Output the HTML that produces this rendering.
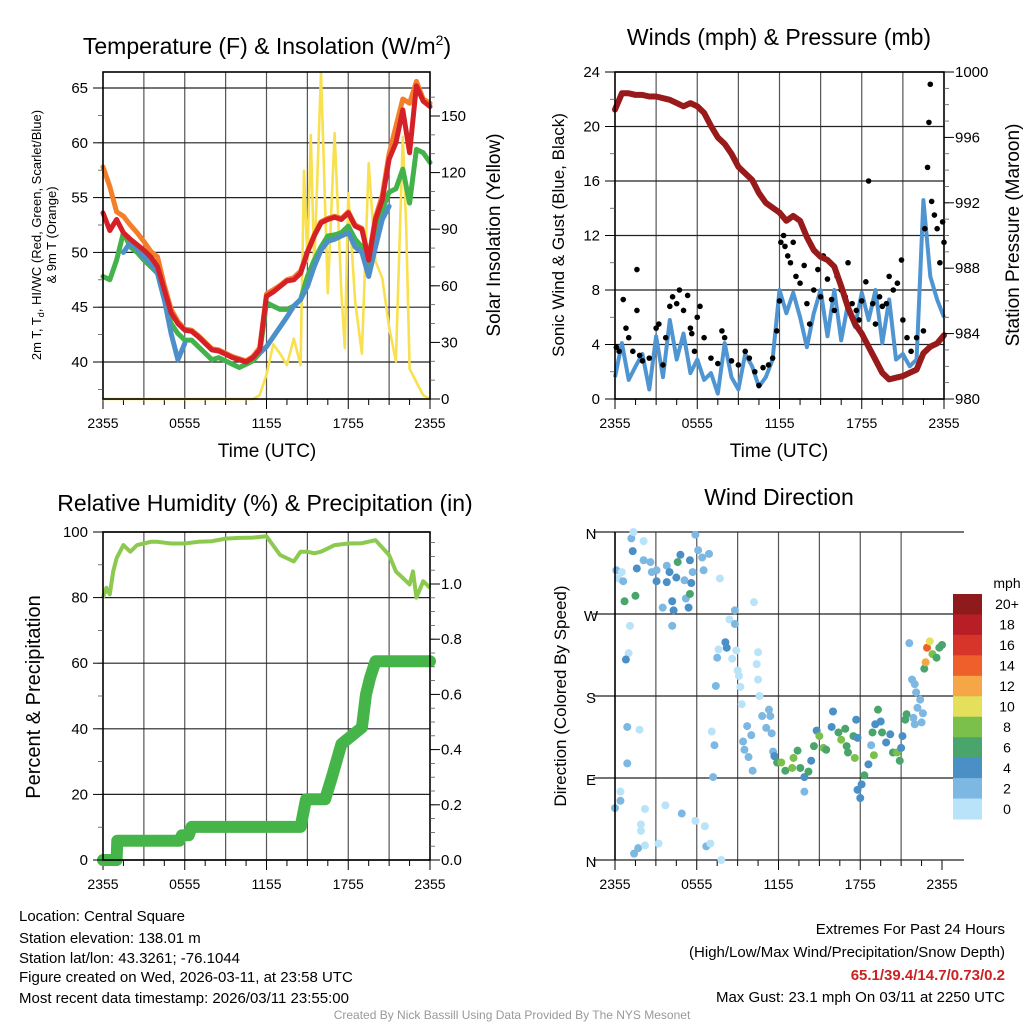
<!DOCTYPE html>
<html><head><meta charset="utf-8"><style>
html,body{margin:0;padding:0;background:#fff;}
svg{display:block;font-family:"Liberation Sans",Arial,sans-serif;}
</style></head><body>
<svg id="root" width="1024" height="1024" viewBox="0 0 1024 1024" xmlns="http://www.w3.org/2000/svg">
<g id="p1"></g>
<g id="p2"></g>
<g id="p3"></g>
<g id="p4"></g>
<g id="footer">
<text x="19" y="921" font-size="15">Location: Central Square</text>
<text x="19" y="943" font-size="15">Station elevation: 138.01 m</text>
<text x="19" y="963" font-size="15">Station lat/lon: 43.3261; -76.1044</text>
<text x="19" y="982" font-size="15">Figure created on Wed, 2026-03-11, at 23:58 UTC</text>
<text x="19" y="1003" font-size="15">Most recent data timestamp: 2026/03/11 23:55:00</text>
<text x="1005" y="934" font-size="15" text-anchor="end">Extremes For Past 24 Hours</text>
<text x="1005" y="957" font-size="15" text-anchor="end">(High/Low/Max Wind/Precipitation/Snow Depth)</text>
<text x="1005" y="980" font-size="15" font-weight="bold" fill="#cc2222" text-anchor="end">65.1/39.4/14.7/0.73/0.2</text>
<text x="1005" y="1002" font-size="15" text-anchor="end">Max Gust: 23.1 mph On 03/11 at 2250 UTC</text>
<text x="512" y="1019" font-size="12" fill="#999" text-anchor="middle">Created By Nick Bassill Using Data Provided By The NYS Mesonet</text>
</g>
</svg>
<script>
// ===== data =====
const xTickLabels = ["2355","0555","1155","1755","2355"];
const tHours = [0,0.5,1,1.5,2,2.5,3,3.5,4,4.5,5,5.5,6,6.5,7,7.5,8,8.5,9,9.5,10,10.5,11,11.5,12,12.5,13,13.5,14,14.5,15,15.5,16,16.5,17,17.5,18,18.5,19,19.5,20,20.5,21,21.5,22,22.5,23,23.5,24];
const tempRed = [53.6,52,53,51.8,51.2,50.7,50.2,49.6,48.7,46.6,44.5,43.5,42.9,42.8,42.3,41.7,41.1,41,40.7,40.4,40.2,40,40.4,41.1,46,46.4,46.9,47.4,47.5,48.1,50,51.5,52.7,53,53.2,53,53.6,52.4,52.1,49.3,53,54.8,58.5,60,63,59.1,65.2,63.8,63.3];
const tempOrange = [57.8,56,53.7,53.3,52.5,51.8,51,50.1,49.6,47,44.8,43.7,43,42.9,42.4,41.8,41.2,41.1,40.8,40.5,40.3,40.1,40.5,41.3,46.2,46.6,47,47.5,47.7,48.3,50.1,51.6,52.8,53.1,53.3,53.1,53.7,52.5,52.2,49.5,53.2,55.2,59,61.5,64,63.6,65.6,64,63.6];
const tempGreen = [47.8,47.5,49.3,51.8,50.5,50,49.3,48.7,48.1,45.7,43.5,42.6,42,42,41.4,40.8,40.2,40.4,40.1,39.8,39.5,39.8,40.1,40.8,45.4,45.1,44.8,44.8,45.1,45.7,47.8,49.3,50.5,51.5,51.6,51.8,52.4,51.2,50.5,49,51.8,53.9,55.5,55.8,57.6,54.5,59.4,59.1,58.2];
const tempBlue = [null,null,null,50,50.9,50.3,49.6,49,48.1,45.7,42.6,40.2,41.7,null,null,null,38.1,null,39,null,null,null,null,40.8,41.4,42.3,43.2,44.1,45.1,45.7,46.9,48.7,50.2,51,51.2,51.5,51.8,50.5,50,47.8,50.5,53,54.2,null,null,null,null,null,null];
const solarHours = [0,11,11.5,12,12.5,13,13.5,14,14.5,14.75,15,15.25,15.5,16,16.5,17,17.5,17.75,18,18.5,19,19.5,20,20.5,21,21.5,22,22.25,22.5,23,23.5,24];
const solarVals = [0,0,2,13,29,24,18,32,18,121,73,140,70,173,56,141,56,27,109,52,24,125,73,64,38,20,139,91,16,9,2,0];
const tempTicks = [40,45,50,55,60,65];
const solarTicks = [0,30,60,90,120,150];

const windVals = [1.6,4.1,1.4,2.4,3.3,0.7,4.6,1.6,5.8,2.9,4.8,1.9,2.9,1.4,1.9,0.4,4.1,1.6,0.7,3.3,2.4,0.9,1.6,2.9,8,6.3,7.8,6,3.8,6.3,8,4.6,8,4.3,7,5.3,7.8,5.8,8,4.1,7.3,2.9,3.3,2.4,2.9,14.6,9,7.3,6];
const pressVals = [997.7,998.7,998.7,998.6,998.6,998.5,998.5,998.4,998.3,998.1,997.9,998.1,997.9,997.5,996.7,996,995.6,995,994.2,993.8,993.4,992.6,992,991.7,991.4,990.9,991.2,990.9,989.9,989.1,988.7,988.5,988.1,986.9,985.6,984.6,984,983.2,982.4,981.6,981.2,981.3,981.4,981.6,981.8,982.8,983.2,983.4,983.9];
const gustHours = [0.1,0.3,0.6,0.8,1.0,1.3,1.6,1.6,1.8,2.0,2.5,3.0,3.2,3.5,3.7,4.0,4.2,4.5,4.7,5.0,5.3,5.5,5.6,5.8,6.0,6.2,6.5,7.0,7.5,7.8,8.0,8.5,9.0,9.5,9.8,10.2,10.5,10.8,11.2,11.5,11.8,12.0,12.1,12.3,12.4,12.6,12.8,13.0,13.2,13.5,13.8,14.0,14.2,14.5,14.8,15.0,15.2,15.5,15.8,16.0,16.2,16.5,16.8,17.0,17.3,17.6,17.8,18.0,18.3,18.5,18.8,19.0,19.3,19.5,19.8,20.0,20.3,20.6,20.9,21.0,21.3,21.6,22.0,22.5,22.6,22.8,22.9,23.0,23.1,23.3,23.5,23.7,23.9,24.0];
const gustVals = [3.8,3.5,7.3,5.2,4.5,3.5,6.5,9.5,3.2,2.8,3.0,5.2,5.5,2.5,4.5,6.8,7.5,7.0,8.0,6.5,7.6,5.2,4.8,3.5,6.0,6.8,4.5,3.0,2.6,5.0,4.5,2.8,2.5,3.5,3.0,2.0,1.0,2.3,2.5,3.0,5.0,7.2,11.5,12.0,11.2,10.5,10.0,11.5,9.0,8.5,9.8,7.0,5.5,8.0,9.5,7.5,10.5,8.8,7.3,6.5,9.0,8.0,7.5,10.0,7.0,6.5,5.8,7.2,8.6,16.0,7.0,5.5,7.5,6.8,7.0,9.0,8.0,8.5,10.2,5.8,4.5,3.5,4.5,5.0,12.5,17.0,20.3,23.1,14.5,13.5,12.5,10.0,13.0,11.5];
const windTicks = [0,4,8,12,16,20,24];
const pressTicks = [980,984,988,992,996,1000];

const rhHours = [0,0.25,0.5,0.75,1,1.5,2,2.5,3,3.5,4,5,6,7,8,9,10,11,12,13,14,14.5,15,15.5,16,16.5,17,18,19,20,21,21.5,22,22.5,22.75,23,23.5,24];
const rhVals = [80,83,81,88,92,96,94,96,96.5,97,97,96.5,96.5,97,97.2,98,98.2,98.3,98.7,93,91,94,94,93.5,94,95,96,96.5,96.6,97.5,93,88,86,84,88,80,85,83];
const precipHours = [0,1,1.05,5.6,5.8,6.3,6.5,14.5,14.9,16.3,16.8,17.5,19.0,19.3,19.6,20.0,24];
const precipVals = [0,0,0.07,0.07,0.09,0.09,0.12,0.12,0.22,0.22,0.3,0.42,0.48,0.6,0.66,0.72,0.72];
const rhTicks = [0,20,40,60,80,100];
const precipTicks = ["0.0","0.2","0.4","0.6","0.8","1.0"];

const dirHours = [0.1,0.25,0.6,0.5,0.7,1.5,1.2,1.35,1.3,1.6,2.1,2.1,2.6,2.7,3.05,3.05,3.5,3.8,4.0,3.8,4.2,4.3,4.6,4.8,4.5,5.1,5.2,5.4,5.5,5.6,5.5,5.7,5.9,6.1,6.4,6.5,6.9,7.7,8.4,8.8,8.8,10.2,1.1,1.0,0.8,4.2,0.9,1.8,0.9,0.4,0.4,0,2.2,1.9,1.9,1.7,1.4,2.2,3.2,3.7,4.9,5.9,6.6,6.7,7.0,7.8,7.2,7.3,7.1,7.4,7.6,8.1,8.2,7.5,8.6,9.0,9.1,9.2,9.3,10.4,10.5,10.5,10.6,8.9,9.4,9.5,9.8,10.1,9.7,10.0,10.8,11.1,11.5,11.3,11.4,11.6,11.7,11.9,12.2,12.5,13.1,13.0,13.4,13.6,13.9,13.9,14.2,14.4,14.6,14.8,15.0,15.3,15.5,16.0,15.9,16.4,16.6,16.9,17.0,17.1,17.6,17.5,17.7,17.8,17.8,18.0,18.1,18.3,18.6,18.8,19.0,18.9,19.1,19.3,19.5,19.6,19.9,20.2,20.4,20.7,20.9,21.1,21.0,21.3,21.4,22.0,21.9,22.2,22.4,22.1,21.8,22.0,21.6,22.7,22.8,22.9,23.1,23.3,23.6,23.8,24.0,22.5,22.6];
const dirDegs = [318,309,306,316,284,290,353,360,339,320,350,329,327,316,306,318,277,323,316,305,284,274,327,335,310,307,287,277,329,304,292,316,357,340,332,318,336,309,264,259,274,283,257,227,220,257,146,143,106,75,65,57,56,39,32,13,7,16,18,60,51,43,37,15,18,0,91,126,141,191,231,239,233,222,221,208,202,190,171,215,228,198,180,230,130,121,113,98,147,137,158,145,139,165,158,119,114,107,107,98,112,101,120,101,91,75,97,109,125,142,136,123,121,163,146,140,132,144,125,118,112,136,154,134,77,68,83,93,105,126,115,140,149,165,152,140,129,138,118,118,109,136,123,154,160,149,156,167,176,184,198,193,238,210,217,233,240,226,222,233,236,151,161];
const dirSpeeds = [3,1,3,0,7,7,3,1,5,5,0,3,3,3,5,3,3,3,5,5,5,5,7,5,5,3,3,5,5,5,7,3,3,3,3,3,3,0,1,3,3,0,0,0,5,3,3,0,3,0,3,3,0,0,0,3,3,0,0,0,3,0,0,3,0,0,3,3,0,3,0,5,5,3,0,0,0,0,0,0,0,0,0,1,3,3,3,3,3,3,3,3,3,3,3,3,5,7,9,7,9,9,7,7,5,3,7,5,7,5,9,9,7,5,5,7,9,7,7,7,9,7,5,5,5,5,5,7,5,3,9,7,5,7,5,7,5,5,7,9,7,5,5,7,7,3,3,3,3,3,3,3,3,7,13,15,11,9,7,7,7,3,3];
const dirTickLabels = ["N","E","S","W","N"];
const cbLabels = ["20+","18","16","14","12","10","8","6","4","2","0"];
const cbColors = ["#8e1a1c","#b81e25","#d8352a","#ef5f2b","#f5a748","#e4e05c","#7cc04c","#4aa56d","#4a8fc6","#7db8e2","#b9e3f8"];

// ===== helpers =====
const NS="http://www.w3.org/2000/svg";
function mk(parent, tag, attrs, txt){const e=document.createElementNS(NS,tag);for(const k in attrs)e.setAttribute(k,attrs[k]);if(txt!==undefined)e.textContent=txt;parent.appendChild(e);return e;}
function lin(d0,d1,r0,r1){return v=>r0+(v-d0)*(r1-r0)/(d1-d0);}
function speedColor(s){let i=Math.floor(s/2);if(i>10)i=10;return cbColors[10-i];}

function frame(g, L, R, T, B, name){
  const xs=lin(0,24,L,R);
  for(let h=3;h<24;h+=3){
    const ln=mk(g,'line',{x1:xs(h),x2:xs(h),y1:T,y2:B,stroke:'#555','stroke-width':1.2});
    
    
  }
  for(let h=0;h<=24;h+=1.5){
    const tk=mk(g,'line',{x1:xs(h),x2:xs(h),y1:B,y2:B+(h%6===0?10:6),stroke:'#000','stroke-width':1});
    
    
  }
  xTickLabels.forEach((t,i)=>{
    const tx=mk(g,'text',{x:xs(i*6),y:B+29,'font-size':14,'text-anchor':'middle'},t);
    
    
  });
  return xs;
}
function border(g,L,R,T,B,name){
  const r=mk(g,'rect',{x:L,y:T,width:R-L,height:B-T,fill:'none',stroke:'#000','stroke-width':1.6});
  
  
}
function hgrid(g,L,R,ys,name){
  ys.forEach(y=>{const l=mk(g,'line',{x1:L,x2:R,y1:y,y2:y,stroke:'#222','stroke-width':1.2});
    
    });
}
function minorTicks(g,x,dir,y0,y1,step,name){
  for(let y=y0;(step>0?y<=y1:y>=y1);y+=step){
    const t=mk(g,'line',{x1:x,x2:x+dir*5,y1:y,y2:y,stroke:'#555','stroke-width':0.8});
    
    
  }
}
function leftTicks(g,L,vals,ys,labels,name){
  vals.forEach((v,i)=>{
    const t=mk(g,'line',{x1:L-10,x2:L,y1:ys(v),y2:ys(v),stroke:'#000'});
    
    
    const tx=mk(g,'text',{x:L-15,y:ys(v)+5,'font-size':15,'text-anchor':'end'},labels?labels[i]:v);
    
    
  });
}
function rightTicks(g,R,vals,ys,labels,name){
  vals.forEach((v,i)=>{
    const t=mk(g,'line',{x1:R,x2:R+10,y1:ys(v),y2:ys(v),stroke:'#000'});
    
    
    const tx=mk(g,'text',{x:R+11,y:ys(v)+5,'font-size':15},labels?labels[i]:v);
    
    
  });
}
function pathFrom(xsArr,ysArr,xs,ys){
  let d='',pen=false;
  for(let i=0;i<xsArr.length;i++){
    const v=ysArr[i];
    if(v===null||v===undefined){pen=false;continue;}
    d+=(pen?'L':'M')+xs(xsArr[i]).toFixed(1)+','+ys(v).toFixed(1);pen=true;
  }
  return d;
}
function rotText(g,x,y,size,txt,name){
  const t=mk(g,'text',{x:x,y:y,'font-size':size,'text-anchor':'middle',transform:`rotate(-90 ${x} ${y})`},txt);
  
  
  return t;
}

// ===== Panel 1 =====
(function(){
  const g=document.getElementById('p1');const L=103,R=430,T=72,B=399;
  const ys=lin(40,65,362,88), ys2=lin(0,150,399,116);
  const xs=frame(g,L,R,T,B,'temp');
  hgrid(g,L,R,tempTicks.map(ys),'temp');
  const ins=mk(g,'path',{d:pathFrom(solarHours,solarVals,xs,ys2),fill:'none',stroke:'#f9e04f','stroke-width':2.6,'stroke-linejoin':'round'});
  
  
  const series=[[tempOrange,'#f47f2a','temp-9m-line'],[tempGreen,'#43b24a','dewpoint-line'],[tempBlue,'#4d8fc9','windchill-line'],[tempRed,'#d62027','temp-2m-line']];
  series.forEach(s=>{
    const p=mk(g,'path',{d:pathFrom(tHours,s[0],xs,ys),fill:'none',stroke:s[1],'stroke-width':5,'stroke-linejoin':'round','stroke-linecap':'round'});
    
    
  });
  border(g,L,R,T,B,'temp');
  minorTicks(g,L,-1,ys(37.5),ys(65),-(ys(40)-ys(42.5)),'temp');
  minorTicks(g,R,1,ys2(0),ys2(170),-(ys2(0)-ys2(10)),'solar');
  leftTicks(g,L,tempTicks,ys,null,'temp');
  rightTicks(g,R,solarTicks,ys2,null,'solar');
  const t=mk(g,'text',{x:267,y:54,'font-size':23,'text-anchor':'middle'});
  t.innerHTML='Temperature (F) &amp; Insolation (W/m<tspan dy="-9" font-size="14">2</tspan><tspan dy="9">)</tspan>';
  
  
  const xl=mk(g,'text',{x:267,y:457,'font-size':19,'text-anchor':'middle'},'Time (UTC)');
  
  
  const yl=rotText(g,41,235,13,'');
  yl.innerHTML='2m T, T<tspan dy="3" font-size="9">d</tspan><tspan dy="-3">, HI/WC (Red, Green, Scarlet/Blue)</tspan>';
  
  rotText(g,56,235,13,'& 9m T (Orange)','temp-y-axis-title-line2');
  rotText(g,500,235,19,'Solar Insolation (Yellow)','solar-y-axis-title');
})();

// ===== Panel 2 =====
(function(){
  const g=document.getElementById('p2');const L=615,R=944,T=72,B=399;
  const ys=lin(0,24,399,72), ys2=lin(980,1000,399,72);
  const xs=frame(g,L,R,T,B,'wind');
  hgrid(g,L,R,windTicks.map(ys),'wind');
  const w=mk(g,'path',{d:pathFrom(tHours,windVals,xs,ys),fill:'none',stroke:'#4f95d2','stroke-width':4,'stroke-linejoin':'round'});
  
  
  gustHours.forEach((h,i)=>{
    const c=mk(g,'circle',{cx:xs(h),cy:ys(gustVals[i]),r:2.8,fill:'#000'});
    
    
  });
  const p=mk(g,'path',{d:pathFrom(tHours,pressVals,xs,ys2),fill:'none',stroke:'#981a1a','stroke-width':6,'stroke-linejoin':'round','stroke-linecap':'round'});
  
  
  border(g,L,R,T,B,'wind');
  minorTicks(g,L,-1,ys(0),ys(24),-(ys(0)-ys(2)),'wind');
  minorTicks(g,R,1,ys2(980),ys2(1000),-(ys2(980)-ys2(981)),'pressure');
  leftTicks(g,L,windTicks,ys,null,'wind');
  rightTicks(g,R,pressTicks,ys2,null,'pressure');
  const t=mk(g,'text',{x:779,y:45,'font-size':23,'text-anchor':'middle'},'Winds (mph) & Pressure (mb)');
  
  
  const xl=mk(g,'text',{x:779,y:457,'font-size':19,'text-anchor':'middle'},'Time (UTC)');
  
  
  rotText(g,564,235,17,'Sonic Wind & Gust (Blue, Black)','wind-y-axis-title');
  rotText(g,1019,235,19,'Station Pressure (Maroon)','pressure-y-axis-title');
})();

// ===== Panel 3 =====
(function(){
  const g=document.getElementById('p3');const L=103,R=430,T=532,B=860;
  const ys=lin(0,100,860,532), ys2=lin(0,1,860,584);
  const xs=frame(g,L,R,T,B,'rh');
  hgrid(g,L,R,rhTicks.map(ys),'rh');
  const pr=mk(g,'path',{d:pathFrom(precipHours,precipVals,xs,ys2),fill:'none',stroke:'#46b549','stroke-width':12,'stroke-linejoin':'round','stroke-linecap':'round'});
  
  
  const rh=mk(g,'path',{d:pathFrom(rhHours,rhVals,xs,ys),fill:'none',stroke:'#8cc94f','stroke-width':4,'stroke-linejoin':'round'});
  
  
  border(g,L,R,T,B,'rh');
  minorTicks(g,L,-1,ys(0),ys(100),-(ys(0)-ys(10)),'rh');
  minorTicks(g,R,1,ys2(0),ys2(1.18),-(ys2(0)-ys2(0.05)),'precip');
  leftTicks(g,L,rhTicks,ys,null,'rh');
  rightTicks(g,R,precipTicks.map(Number),ys2,precipTicks,'precip');
  const t=mk(g,'text',{x:265,y:511,'font-size':23,'text-anchor':'middle'},'Relative Humidity (%) & Precipitation (in)');
  
  
  rotText(g,40,697,20,'Percent & Precipitation','rh-y-axis-title');
})();

// ===== Panel 4 =====
(function(){
  const g=document.getElementById('p4');const L=615,R=942,T=532,B=860;
  const ys=lin(0,360,860,532);
  const xs=frame(g,L,R,T,B,'dir');
  hgrid(g,L-22,R+22,[0,90,180,270,360].map(ys),'dir');
  dirHours.forEach((h,i)=>{
    const c=mk(g,'circle',{cx:xs(h),cy:ys(dirDegs[i]),r:4,fill:speedColor(dirSpeeds[i])});
    
    
  });
  const br=mk(g,'line',{x1:L,x2:L,y1:T,y2:B,stroke:'#000','stroke-width':1.6});
  
  
  dirTickLabels.forEach((lab,i)=>{
    const tx=mk(g,'text',{x:591,y:ys(i*90)+7,'font-size':15,'text-anchor':'middle'},lab);
    
    
  });
  const bh=(819-594)/11;
  cbColors.forEach((c,i)=>{
    const r=mk(g,'rect',{x:953,y:594+i*bh,width:29,height:bh+0.5,fill:c});
    
    
    const tx=mk(g,'text',{x:1007,y:594+i*bh+bh/2+5,'font-size':14,'text-anchor':'middle'},cbLabels[i]);
    
    
  });
  const u=mk(g,'text',{x:1007,y:588,'font-size':14,'text-anchor':'middle'},'mph');
  
  
  const t=mk(g,'text',{x:779,y:505,'font-size':23,'text-anchor':'middle'},'Wind Direction');
  
  
  rotText(g,566,696,17,'Direction (Colored By Speed)','dir-y-axis-title');
})();
</script>
</body></html>
